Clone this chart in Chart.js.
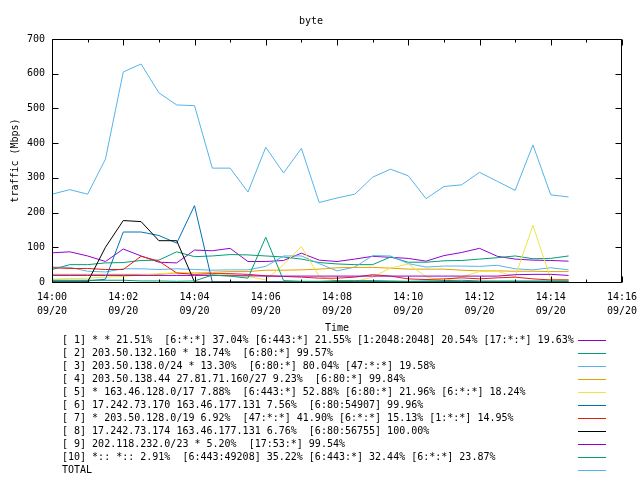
<!DOCTYPE html>
<html><head><meta charset="utf-8">
<script src="https://cdn.jsdelivr.net/npm/chart.js@4"></script>
<style>html,body{margin:0;padding:0;background:#fff}canvas{display:block}</style>
</head><body>
<canvas id="c" width="640" height="480"></canvas>
<script>
const times = ["14:00:00","14:00:30","14:01:00","14:01:30","14:02:00","14:02:30","14:03:00","14:03:30","14:04:00","14:04:30","14:05:00","14:05:30","14:06:00","14:06:30","14:07:00","14:07:30","14:08:00","14:08:30","14:09:00","14:09:30","14:10:00","14:10:30","14:11:00","14:11:30","14:12:00","14:12:30","14:13:00","14:13:30","14:14:00","14:14:30"];
const xTickLabels = ["14:00","14:02","14:04","14:06","14:08","14:10","14:12","14:14","14:16"];
const tickDate = "09/20";

const s1  = [84, 87, 75, 59, 95, 75, 57, 55, 92, 90, 97, 59, 59, 62, 83, 63, 59, 66, 74, 71, 68, 60, 76, 85, 97, 74, 66, 63, 62, 60];
const s2  = [36, 50, 50, 55, 56, 62, 63, 87, 73, 75, 79, 78, 75, 72, 66, 56, 52, 50, 50, 72, 57, 57, 61, 62, 66, 70, 75, 67, 68, 75];
const s3  = [43, 42, 31, 29, 38, 38, 36, 38, 36, 34, 35, 35, 45, 75, 75, 53, 32, 43, 76, 75, 53, 43, 46, 46, 45, 48, 38, 35, 41, 35];
const s4  = [22, 22, 22, 22, 22, 22, 22, 26, 27, 28, 30, 30, 34, 34, 35, 37, 41, 42, 42, 40, 37, 37, 37, 34, 32, 32, 31, 31, 30, 30];
const s5  = [8, 10, 11, 14, 16, 20, 24, 27, 27, 25, 22, 16, 6, 50, 102, 16, 3, 1, 14, 40, 52, 15, 4, 15, 30, 31, 15, 163, 8, 6];
const s6  = [3, 3, 3, 8, 144, 144, 134, 112, 220, 0, 0, 0, 0, 0, 0, 0, 0, 0, 0, 0, 0, 0, 0, 0, 0, 0, 0, 0, 0, 0];
const s7  = [41, 39, 39, 36, 36, 74, 60, 26, 22, 24, 24, 22, 18, 16, 14, 11, 11, 14, 21, 17, 9, 7, 9, 12, 9, 12, 14, 9, 6, 6];
const s8  = [0, 0, 0, 100, 177, 174, 119, 119, 0, 0, 0, 0, 0, 0, 0, 0, 0, 0, 0, 0, 0, 0, 0, 0, 0, 0, 0, 0, 0, 0];
const s9  = [19, 19, 19, 19, 19, 19, 19, 19, 19, 19, 18, 18, 17, 17, 17, 17, 17, 17, 17, 17, 17, 17, 17, 17, 17, 17, 21, 22, 22, 19];
const s10 = [5, 5, 5, 5, 5, 3, 3, 2, 3, 20, 17, 11, 129, 4, 2, 2, 4, 4, 4, 3, 2, 3, 4, 5, 3, 3, 3, 3, 3, 3];
const total = [253, 266, 253, 354, 605, 628, 545, 510, 508, 328, 328, 259, 388, 314, 385, 229, 242, 253, 302, 325, 306, 240, 275, 280, 316, 290, 264, 395, 251, 245];

const seriesLabels = [
  "[ 1] * * 21.51%  [6:*:*] 37.04% [6:443:*] 21.55% [1:2048:2048] 20.54% [17:*:*] 19.63%",
  "[ 2] 203.50.132.160 * 18.74%  [6:80:*] 99.57%",
  "[ 3] 203.50.138.0/24 * 13.30%  [6:80:*] 80.04% [47:*:*] 19.58%",
  "[ 4] 203.50.138.44 27.81.71.160/27 9.23%  [6:80:*] 99.84%",
  "[ 5] * 163.46.128.0/17 7.88%  [6:443:*] 52.88% [6:80:*] 21.96% [6:*:*] 18.24%",
  "[ 6] 17.242.73.170 163.46.177.131 7.56%  [6:80:54907] 99.96%",
  "[ 7] * 203.50.128.0/19 6.92%  [47:*:*] 41.90% [6:*:*] 15.13% [1:*:*] 14.95%",
  "[ 8] 17.242.73.174 163.46.177.131 6.76%  [6:80:56755] 100.00%",
  "[ 9] 202.118.232.0/23 * 5.20%  [17:53:*] 99.54%",
  "[10] *:: *:: 2.91%  [6:443:49208] 35.22% [6:443:*] 32.44% [6:*:*] 23.87%",
  "TOTAL"
];
const seriesValues = [s1, s2, s3, s4, s5, s6, s7, s8, s9, s10, total];
const seriesColors = ["#9400d3","#009e73","#56b4e9","#e69f00","#f0e442","#0072b2","#e51e10","#000000","#9400d3","#009e73","#56b4e9"];

const FONT = '"DejaVu Sans Mono", "Liberation Mono", monospace';
Chart.defaults.font.family = FONT;
Chart.defaults.font.size = 10;
Chart.defaults.color = '#000';

function toMinutes(t) {
  const p = t.split(':').map(Number);
  return (p[0] - 14) * 60 + p[1] + p[2] / 60;
}

const datasets = seriesValues.map((vals, i) => ({
  label: seriesLabels[i],
  data: vals.map((v, j) => ({x: toMinutes(times[j]), y: v})),
  borderColor: seriesColors[i],
  backgroundColor: seriesColors[i],
  borderWidth: 1,
  pointRadius: 0,
  tension: 0,
  fill: false,
  order: seriesValues.length - i
}));

const frame = {
  id: 'frame',
  afterDatasetsDraw(chart) {
    const {ctx, chartArea: a, scales: {x, y}} = chart;
    ctx.save();
    ctx.strokeStyle = '#000';
    ctx.lineWidth = 1;
    const L = Math.round(a.left) + 0.5, R = Math.round(a.right) - 0.5;
    const T = Math.round(a.top) + 0.5, B = Math.round(a.bottom) + 0.5;
    ctx.beginPath();
    ctx.rect(L, T, R - L, B - T);
    y.ticks.forEach(t => {
      const py = Math.round(y.getPixelForValue(t.value)) + 0.5;
      ctx.moveTo(L, py); ctx.lineTo(L + 6, py);
      ctx.moveTo(R, py); ctx.lineTo(R - 6, py);
    });
    x.ticks.forEach(t => {
      const px = Math.round(x.getPixelForValue(t.value)) + 0.5;
      const len = (Math.round(t.value) % 2 === 0) ? 6 : 3;
      ctx.moveTo(px, B); ctx.lineTo(px, B - len);
      ctx.moveTo(px, T); ctx.lineTo(px, T + len);
    });
    ctx.stroke();
    ctx.restore();
  },
  afterDraw(chart) {
    const ctx = chart.ctx;
    ctx.save();
    ctx.font = '10px ' + FONT;
    ctx.textBaseline = 'middle';
    ctx.textAlign = 'left';
    chart.data.datasets.forEach((ds, i) => {
      const yy = 340 + 13 * i;
      ctx.fillStyle = '#000';
      ctx.fillText(ds.label, 62, yy);
      ctx.strokeStyle = ds.borderColor;
      ctx.lineWidth = 1;
      ctx.beginPath();
      ctx.moveTo(578, Math.round(yy) + 0.5);
      ctx.lineTo(606, Math.round(yy) + 0.5);
      ctx.stroke();
    });
    ctx.restore();
  }
};

new Chart(document.getElementById('c'), {
  type: 'line',
  data: {datasets},
  plugins: [frame],
  options: {
    responsive: false,
    animation: false,
    devicePixelRatio: 1,
    layout: {padding: {left: 0, right: 18, top: 0, bottom: 146}},
    plugins: {
      legend: {display: false},
      tooltip: {enabled: false},
      title: {display: true, text: 'byte', font: {size: 10, weight: 'normal'}, color: '#000', padding: {top: 15, bottom: 12}}
    },
    scales: {
      x: {
        type: 'linear', min: 0, max: 16,
        grid: {display: false, drawTicks: false, tickLength: 0},
        border: {display: false},
        ticks: {
          stepSize: 1, autoSkip: false, maxRotation: 0, minRotation: 0, padding: 8,
          font: {size: 10, lineHeight: 1.4},
          callback: (v) => (Math.round(v) % 2 === 0) ? [xTickLabels[Math.round(v) / 2], tickDate] : ''
        },
        title: {display: true, text: 'Time', font: {size: 10}, padding: {top: 0, bottom: 0}},
        afterFit: (s) => { s.height = 52; s.paddingLeft = 0; s.paddingRight = 0; }
      },
      y: {
        min: 0, max: 700,
        grid: {display: false, drawTicks: false, tickLength: 0},
        border: {display: false},
        ticks: {stepSize: 100, padding: 7, font: {size: 10}},
        title: {display: true, text: 'traffic (Mbps)', font: {size: 10}, padding: {top: 9, bottom: 0}},
        afterFit: (s) => { s.width = 52; s.paddingTop = 0; s.paddingBottom = 0; }
      }
    }
  }
});
</script>
</body></html>
